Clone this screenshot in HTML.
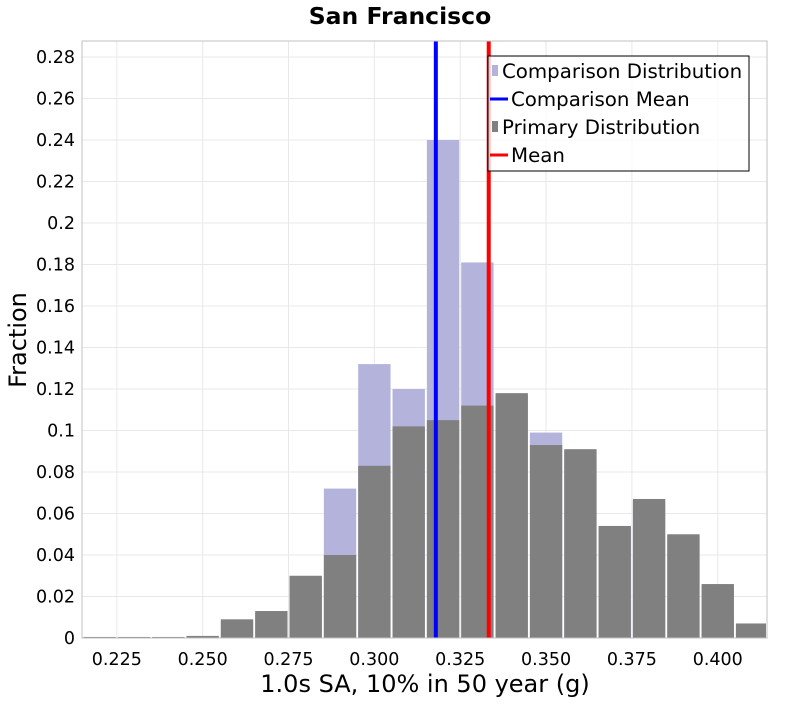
<!DOCTYPE html>
<html><head><meta charset="utf-8"><style>
body{margin:0;background:#fff;font-family:"DejaVu Sans","Liberation Sans",sans-serif}
</style></head><body>
<svg id="c" width="800" height="700" xmlns="http://www.w3.org/2000/svg" font-family="DejaVu Sans, Liberation Sans, sans-serif">
<text x="400" y="24" text-anchor="middle" font-size="23.5" font-weight="bold">San Francisco</text>
<g id="grid"></g><g id="bars"></g><g id="axes"></g>
<text transform="translate(26,340) rotate(-90)" text-anchor="middle" font-size="24">Fraction</text>
<text x="425" y="692" text-anchor="middle" font-size="24">1.0s SA, 10% in 50 year (g)</text>
<g>
<rect x="488" y="56" width="261" height="115" fill="#fff" fill-opacity="0.75" stroke="#000" stroke-width="1"/>
<rect x="492" y="65" width="6" height="11" fill="#b3b3dc"/>
<text x="502" y="78" font-size="19.8">Comparison Distribution</text>
<line x1="490" y1="99" x2="508" y2="99" stroke="#0000ff" stroke-width="3"/>
<text x="511" y="106" font-size="19.8">Comparison Mean</text>
<rect x="492" y="121" width="6" height="11" fill="#808080"/>
<text x="502" y="134" font-size="19.8">Primary Distribution</text>
<line x1="490" y1="155" x2="508" y2="155" stroke="#ff0000" stroke-width="3"/>
<text x="511" y="162" font-size="19.8">Mean</text>
</g>
</svg>
<script>
const binStarts=[0.215,0.225,0.235,0.245,0.255,0.265,0.275,0.285,0.295,0.305,0.315,0.325,0.335,0.345,0.355,0.365,0.375,0.385,0.395,0.405];
const primaryValues=[0.0005,0.0005,0.0005,0.001,0.009,0.013,0.030,0.040,0.083,0.102,0.105,0.112,0.118,0.093,0.091,0.054,0.067,0.050,0.026,0.007];
const comparisonValues=[0,0,0,0,0.008,0.012,0.029,0.072,0.132,0.120,0.240,0.181,0.117,0.099,0.090,0.053,0.066,0.049,0.025,0.006];
const comparisonMean=0.3179;
const primaryMean=0.3333;
const xTicks=[0.225,0.250,0.275,0.300,0.325,0.350,0.375,0.400];
const yTicks=[0,0.02,0.04,0.06,0.08,0.1,0.12,0.14,0.16,0.18,0.2,0.22,0.24,0.26,0.28];
const binWidth=0.01;
const L=82,R=767,T=41,B=638;
const xMin=0.21486,xMax=0.41434;
const X=v=>L+(v-xMin)/(xMax-xMin)*(R-L);
const Y=v=>638-v/0.02*41.5;
const NS="http://www.w3.org/2000/svg";
function mk(tag,attrs,parent){const e=document.createElementNS(NS,tag);for(const k in attrs)e.setAttribute(k,attrs[k]);document.getElementById(parent).appendChild(e);return e;}
yTicks.forEach(t=>{const g=mk('line',{x1:L,x2:R,y1:Y(t),y2:Y(t),stroke:'#e8e8e8'},'grid');


const lb=mk('text',{x:L-7,y:Y(t)+6,'text-anchor':'end','font-size':'17.5'},'axes');lb.textContent=String(t);

});
xTicks.forEach(t=>{const g=mk('line',{x1:X(t),x2:X(t),y1:T,y2:B,stroke:'#e8e8e8'},'grid');


const lb=mk('text',{x:X(t),y:B+27,'text-anchor':'middle','font-size':'17.5'},'axes');lb.textContent=t.toFixed(3);

});
function clipBar(i){const x0=Math.max(X(binStarts[i]),L),x1=Math.min(X(binStarts[i]+binWidth),R);return [x0+1,Math.max(0,x1-x0-2)];}
comparisonValues.forEach((v,i)=>{const [x,w]=clipBar(i);const r=mk('rect',{x:x,y:Y(v),width:w,height:B-Y(v),fill:'#b3b3dc'},'bars');

});
primaryValues.forEach((v,i)=>{const [x,w]=clipBar(i);const r=mk('rect',{x:x,y:Y(v),width:w,height:B-Y(v),fill:'#808080'},'bars');

});
const m1=mk('line',{x1:X(comparisonMean),x2:X(comparisonMean),y1:T,y2:B,stroke:'#0000ff','stroke-width':4},'bars');


const m2=mk('line',{x1:X(primaryMean),x2:X(primaryMean),y1:T,y2:B,stroke:'#ff0000','stroke-width':4},'bars');


const fr=mk('rect',{x:L,y:T,width:R-L,height:B-T,fill:'none',stroke:'#c0c0c0'},'axes');


</script>
</body></html>
